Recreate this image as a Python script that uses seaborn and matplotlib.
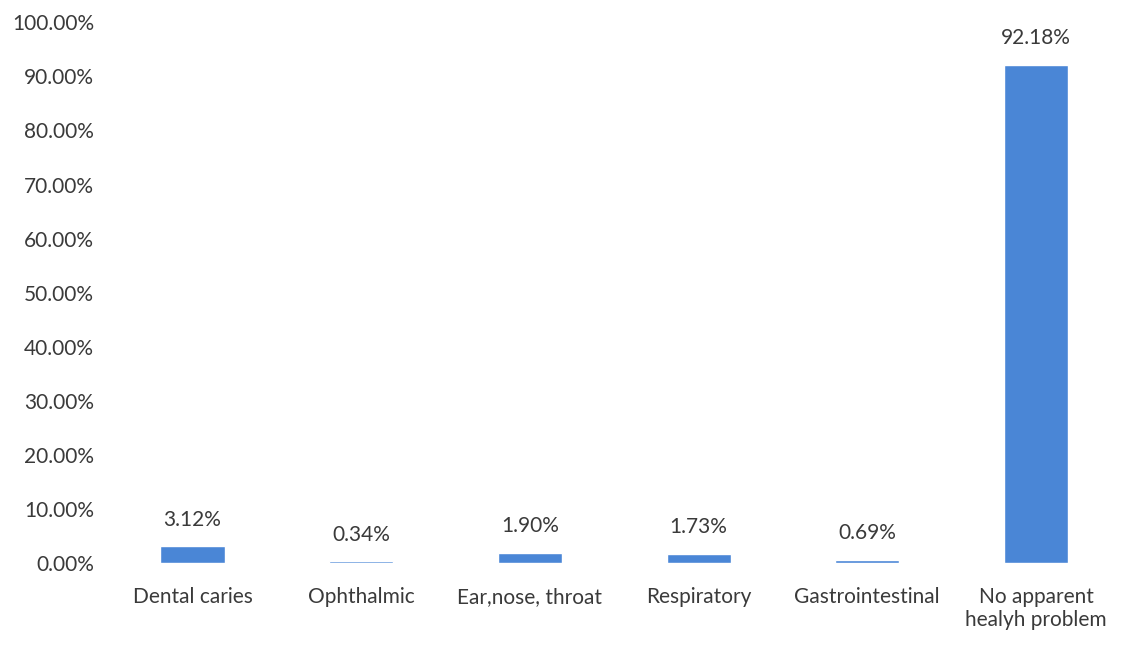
import matplotlib
matplotlib.use('Agg')
import matplotlib.pyplot as plt
import seaborn as sns
import pandas as pd
from matplotlib.ticker import FuncFormatter

categories = ['Dental caries', 'Ophthalmic', 'Ear,nose, throat', 'Respiratory',
              'Gastrointestinal', 'No apparent\nhealyh problem']
values = [3.12, 0.34, 1.90, 1.73, 0.69, 92.18]

df = pd.DataFrame({'category': categories, 'value': values})

sns.set_theme(style='white')
plt.rcParams['font.family'] = ['Lato', 'DejaVu Sans']

fig, ax = plt.subplots(figsize=(11.26, 6.55), dpi=100)
fig.subplots_adjust(left=0.096, right=0.995, top=0.966, bottom=0.14)

sns.barplot(data=df, x='category', y='value', color='#4a86d6', width=0.38,
            saturation=1, ax=ax)

for i, v in enumerate(values):
    ax.annotate(f'{v:.2f}%', (i, v), xytext=(0, 12), textcoords='offset points',
                ha='center', va='bottom', fontsize=15, color='#3a3a3a')

ax.set_ylim(0, 100)
ax.set_yticks(range(0, 101, 10))
ax.yaxis.set_major_formatter(FuncFormatter(lambda y, _: f'{y:.2f}%'))
ax.tick_params(axis='both', labelsize=15, colors='#3a3a3a', length=0)
ax.tick_params(axis='y', pad=10)
ax.tick_params(axis='x', pad=17)
ax.set_xlabel('')
ax.set_ylabel('')
sns.despine(left=True, bottom=True)

fig.savefig('out.png', dpi=100, facecolor='white')
